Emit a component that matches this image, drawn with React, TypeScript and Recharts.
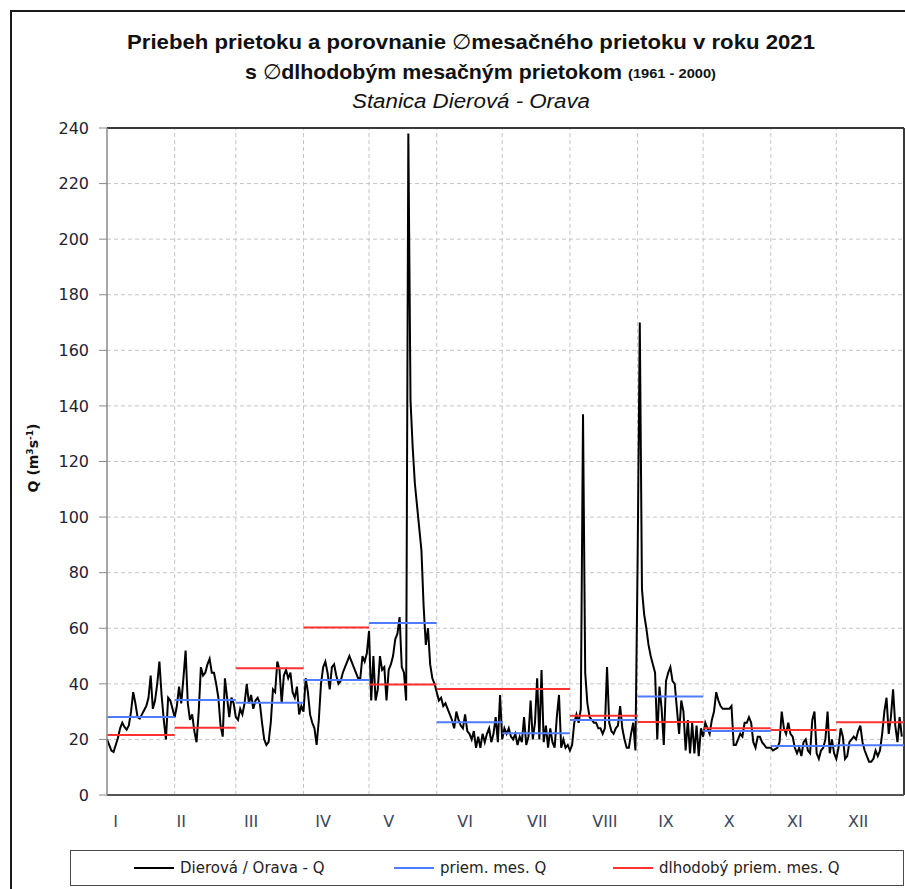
import { LineChart, Line, XAxis, YAxis, CartesianGrid, ReferenceLine, Legend } from 'recharts'

// month axis
const monthNames = ['I', 'II', 'III', 'IV', 'V', 'VI', 'VII', 'VIII', 'IX', 'X', 'XI', 'XII']
const monthStarts = [0, 31, 59, 90, 120, 151, 181, 212, 243, 273, 304, 334, 365]
const monthLabelDays = [4, 34, 66, 99, 129, 164, 197, 228, 256, 285, 315, 344]
const yTicks = [0, 20, 40, 60, 80, 100, 120, 140, 160, 180, 200, 220, 240]

// daily discharge Q (m3/s), Dierová - Orava, 2021
const jan = [20, 18, 16, 15.5, 18, 20.5, 24, 26, 24.5, 23.5, 25, 30, 37, 33, 28, 27.5, 29, 30.5, 32, 35, 43, 31, 34, 40, 48, 36, 27, 20, 35, 34, 31]
const feb = [28, 32, 39, 33, 42, 52, 33, 27, 29, 23, 19, 30, 46, 43, 44, 47, 49, 44, 44, 40, 35, 25, 21, 42, 35, 28, 35, 33]
const mar = [28, 27, 31, 29, 33, 40, 33, 36, 31, 34, 35, 33, 26, 20, 18, 19, 26, 38, 37, 48, 45, 33, 43, 45, 42, 44, 37, 35, 39, 29, 32]
const apr = [30, 42, 37, 29, 26, 24, 18, 27, 40, 46, 48, 44, 38, 46, 47, 43, 40, 41, 44, 46, 48, 50, 48, 46, 44, 42, 42, 50, 48, 51]
const may = [59, 34, 50, 34, 38, 50, 45, 46, 34, 45, 47, 50, 56, 58, 64, 46, 44, 34, 238, 142, 125, 112, 104, 96, 88, 68, 54, 60, 47, 42, 40]
const jun = [37, 34, 35, 32, 33, 31, 29, 27, 24, 30, 27, 25, 24, 29, 23, 22, 20, 23, 17, 21, 17, 22, 19, 22, 24, 19, 22, 28, 19, 36]
const jul = [20, 24, 22, 24, 21, 20, 22, 18, 21, 19, 28, 18, 21, 34, 20, 26, 42, 20, 45, 19, 25, 17, 24, 19, 17, 28, 36, 17, 20, 17, 18]
const aug = [16, 18, 26, 29, 26, 31, 137, 44, 33, 28, 27, 26, 26, 24, 24, 22, 24, 46, 26, 23, 22, 24, 25, 32, 24, 20, 17, 17, 22, 26, 16]
const sep = [84, 170, 74, 65, 60, 54, 50, 47, 44, 20, 39, 31, 18, 41, 44, 46, 41, 40, 31, 22, 34, 30, 16, 27, 15, 26, 15, 25, 14, 24]
const oct = [21, 26, 24, 22, 27, 30, 37, 34, 32, 31, 31, 31, 31, 32, 18, 18, 20, 22, 21, 26, 26, 28, 26, 19, 17, 21, 21, 19, 18, 17, 17]
const nov = [17, 16, 16.5, 17, 19, 30, 24, 22, 26, 22, 21, 17, 15, 17, 14, 19, 20, 16, 15, 27, 30, 15, 13, 16, 17, 20, 30, 15, 20, 15]
const dec = [13, 17, 24, 21, 13, 14, 19, 20, 21, 20, 23, 25, 19, 16, 14, 12, 12, 13, 16, 14, 16, 22, 30, 35, 22, 28, 38, 25, 19, 28, 21]

// monthly means
const priemMes = [28.1, 34.2, 33.2, 41.4, 61.9, 26.2, 22.2, 27.0, 35.4, 23.0, 17.6, 17.9]
const dlhodobyMes = [21.6, 24.2, 45.6, 60.3, 39.8, 38.1, 38.1, 28.5, 26.3, 24.0, 23.4, 26.2]

const seriesNames = ['Dierová / Orava - Q', 'priem. mes. Q', 'dlhodobý priem. mes. Q']

const dailyQ = [...jan, ...feb, ...mar, ...apr, ...may, ...jun, ...jul, ...aug, ...sep, ...oct, ...nov, ...dec]
const dailyData = dailyQ.map((q, i) => ({ day: i, q }))

// one flat segment per month, broken by a null between months
const monthSteps = (values: number[]) =>
    values.flatMap((v, m) => [
        { day: monthStarts[m], v },
        { day: monthStarts[m + 1], v },
        { day: monthStarts[m + 1], v: null },
    ])

const legendLeft = [63, 323, 542]

function LegendBox({ payload }: any) {
    const items = [...(payload || [])].sort((a: any, b: any) => seriesNames.indexOf(a.value) - seriesNames.indexOf(b.value))
    return (
        <div style={{ position: 'relative', width: 834, height: 36, border: '1.5px solid #4a4a4a', boxSizing: 'border-box', background: '#fff' }}>
            {items.map((item: any, i: number) => (
                <div key={item.value} style={{ position: 'absolute', left: legendLeft[i], top: 0, height: 33, display: 'flex', alignItems: 'center', fontFamily: 'DejaVu Sans', fontSize: 15, color: '#222', whiteSpace: 'nowrap' }}>
                    <span style={{ display: 'inline-block', width: 40, borderTop: `2px solid ${item.color}`, marginRight: 6 }} />
                    <span>{item.value}</span>
                </div>
            ))}
        </div>
    )
}

const titleFont = '"Liberation Sans Narrow", "Liberation Sans", sans-serif'

export default function App() {
    return (
        <div style={{ position: 'fixed', left: 0, top: 0, width: 905, height: 889, overflow: 'hidden', background: '#fff' }}>
            <div style={{ position: 'absolute', left: 10, top: 10, width: 1000, height: 1000, borderLeft: '2px solid #1a1a1a', borderTop: '2px solid #1a1a1a' }} />
            <div style={{ position: 'absolute', left: 0, top: 0 }}>
                <LineChart width={905} height={889} margin={{ top: 128, right: 1, left: 0, bottom: 64 }}>
                    <CartesianGrid vertical={false} stroke="#c4c4c4" strokeDasharray="4 3" />
                    {monthStarts.slice(1, 12).map((d) => (
                        <ReferenceLine key={d} x={d} stroke="#c4c4c4" strokeDasharray="4 3" />
                    ))}
                    <XAxis
                        dataKey="day"
                        type="number"
                        domain={[0, 365]}
                        ticks={monthLabelDays}
                        tickFormatter={(_v: number, i: number) => monthNames[i]}
                        tickLine={false}
                        tickSize={8}
                        tickMargin={13}
                        axisLine={{ stroke: '#555', strokeWidth: 2 }}
                        tick={{ fill: '#3b4660', fontSize: 16, fontFamily: 'DejaVu Sans' }}
                        height={30}
                        interval={0}
                    />
                    <YAxis
                        type="number"
                        domain={[0, 240]}
                        ticks={yTicks}
                        width={107}
                        tickSize={8}
                        tickMargin={10}
                        axisLine={{ stroke: '#8a8a8a', strokeWidth: 1.5 }}
                        tickLine={{ stroke: '#8a8a8a' }}
                        tick={{ fill: '#1f2233', fontSize: 16, fontFamily: 'DejaVu Sans' }}
                        interval={0}
                    />
                    <ReferenceLine y={240} stroke="#3a3a3a" strokeWidth={2} />
                    <ReferenceLine x={365} stroke="#3a3a3a" strokeWidth={2} />
                    <Line
                        data={dailyData}
                        dataKey="q"
                        name={seriesNames[0]}
                        stroke="#000"
                        strokeWidth={2}
                        dot={false}
                        type="linear"
                        isAnimationActive={false}
                    />
                    <Line
                        data={monthSteps(priemMes)}
                        dataKey="v"
                        name={seriesNames[1]}
                        stroke="#4f7cff"
                        strokeWidth={2}
                        dot={false}
                        type="linear"
                        isAnimationActive={false}
                    />
                    <Line
                        data={monthSteps(dlhodobyMes)}
                        dataKey="v"
                        name={seriesNames[2]}
                        stroke="#ff3030"
                        strokeWidth={2}
                        dot={false}
                        type="linear"
                        isAnimationActive={false}
                    />
                    <Legend
                        layout="horizontal"
                        align="center"
                        verticalAlign="middle"
                        wrapperStyle={{ left: 70, top: 850, width: 834, height: 36 }}
                        content={<LegendBox />}
                    />
                </LineChart>
            </div>
            <svg width={905} height={889} style={{ position: 'absolute', left: 0, top: 0, pointerEvents: 'none' }}>
                <text x={127} y={49} fontFamily={titleFont} fontWeight="bold" fontSize={21} fill="#111" textLength={688} lengthAdjust="spacingAndGlyphs">
                    Priebeh prietoku a porovnanie <tspan fontWeight="normal">∅</tspan>mesačného prietoku v roku 2021
                </text>
                <text x={245} y={79} fontFamily={titleFont} fontWeight="bold" fontSize={21} fill="#111" textLength={377} lengthAdjust="spacingAndGlyphs">
                    s <tspan fontWeight="normal">∅</tspan>dlhodobým mesačným prietokom
                </text>
                <text x={628} y={78} fontFamily={titleFont} fontWeight="bold" fontSize={12} fill="#111" textLength={88} lengthAdjust="spacingAndGlyphs">
                    (1961 - 2000)
                </text>
                <text x={352} y={108} fontFamily={titleFont} fontStyle="italic" fontSize={20} fill="#111" textLength={238} lengthAdjust="spacingAndGlyphs">
                    Stanica Dierová - Orava
                </text>
                <text transform="translate(38, 458) rotate(-90)" textAnchor="middle" fontFamily="DejaVu Sans" fontWeight="bold" fontSize={14} fill="#111">
                    Q (m<tspan dy={-5} fontSize={9}>3</tspan><tspan dy={5}>s</tspan><tspan dy={-5} fontSize={9}>-1</tspan><tspan dy={5}>)</tspan>
                </text>
            </svg>
        </div>
    )
}
